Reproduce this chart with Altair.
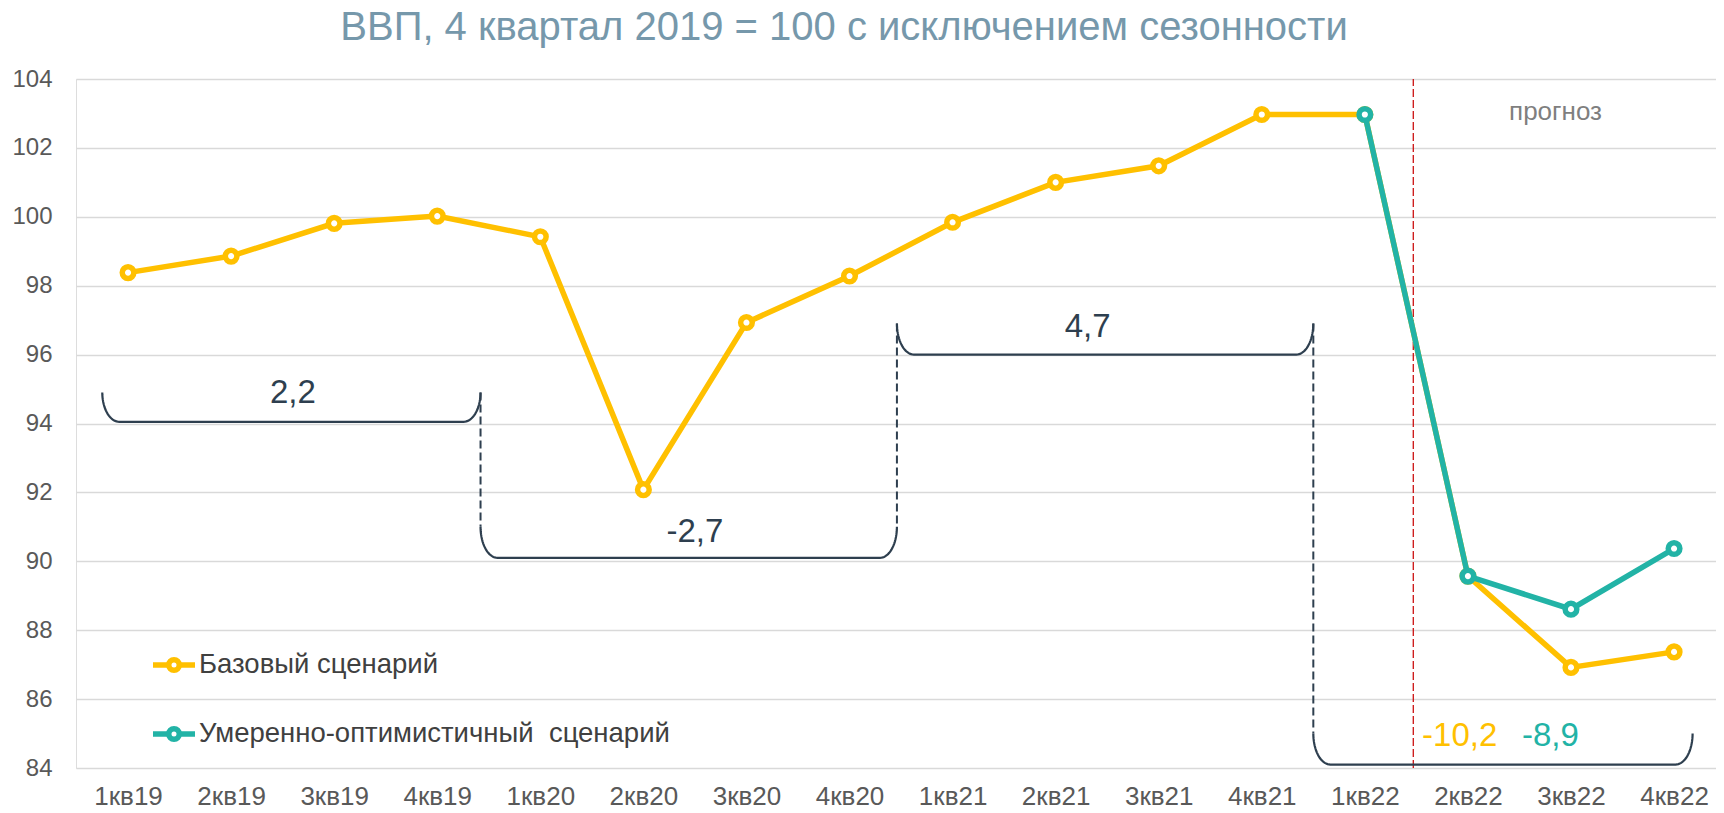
import altair as alt
import pandas as pd
import numpy as np

FONT = "Liberation Sans, Arial, sans-serif"

# ---- data ----
quarters = ["1кв19", "2кв19", "3кв19", "4кв19", "1кв20", "2кв20", "3кв20", "4кв20",
            "1кв21", "2кв21", "3кв21", "4кв21", "1кв22", "2кв22", "3кв22", "4кв22"]
base_values = [98.38, 98.86, 99.81, 100.02, 99.42, 92.08, 96.93, 98.28,
               99.84, 101.0, 101.48, 102.97, 102.97, 89.57, 86.92, 87.37]
opt_start = 12
opt_values = [102.97, 89.57, 88.61, 90.37]
series_names = ["Базовый сценарий", "Умеренно-оптимистичный\u00a0 сценарий"]
series_colors = ["#FFC000", "#22B3A6"]

# brackets (periods) : start / end positions on the quarter axis, top and flat levels
brace_x0 = [-0.25, 3.42, 7.46, 11.5]
brace_x1 = [3.42, 7.46, 11.5, 15.18]
brace_top = [94.9, 91.0, 96.9, 85.0]
brace_flat = [94.05, 90.1, 96.0, 84.1]

ann_text = ["2,2", "-2,7", "4,7", "-10,2", "-8,9"]
ann_x = [1.6, 5.5, 9.31, 12.92, 13.8]
ann_y = [94.89, 90.85, 96.8, 84.93, 84.93]
ann_color = ["#2E3F4F", "#2E3F4F", "#2E3F4F", "#FFC000", "#22B3A6"]

forecast_x = 12.47
forecast_label = "прогноз"
forecast_label_x = 13.85
forecast_label_y = 102.81

title_text = "ВВП, 4 квартал 2019 = 100 с исключением сезонности"

# ---- frames ----
idx = list(range(len(quarters)))
df_base = pd.DataFrame({"i": idx, "v": base_values, "s": series_names[0]})
df_opt = pd.DataFrame({"i": idx[opt_start:], "v": opt_values, "s": series_names[1]})

rx = 0.165  # horizontal extent of the bracket corner (axis units)
rows = []
for b, (x0, x1, yt, yb) in enumerate(zip(brace_x0, brace_x1, brace_top, brace_flat)):
    ry = yt - yb
    t = np.linspace(0, np.pi / 2, 20)
    k = 0
    for tt in t:
        rows.append({"b": b, "o": k, "x": x0 + rx - rx * np.cos(tt), "y": yt - ry * np.sin(tt)})
        k += 1
    for tt in t[::-1]:
        rows.append({"b": b, "o": k, "x": x1 - rx + rx * np.cos(tt), "y": yt - ry * np.sin(tt)})
        k += 1
df_brace = pd.DataFrame(rows)

conn = []
for j in range(len(brace_x0) - 1):
    conn.append({"x": brace_x1[j],
                 "y": max(brace_top[j], brace_top[j + 1]),
                 "y2": min(brace_top[j], brace_top[j + 1])})
df_conn = pd.DataFrame(conn)

df_ann = pd.DataFrame({"t": ann_text, "x": ann_x, "y": ann_y, "c": ann_color})
df_red = pd.DataFrame({"x": [forecast_x], "y": [84], "y2": [104]})
df_fc = pd.DataFrame({"t": [forecast_label], "x": [forecast_label_x], "y": [forecast_label_y]})

# ---- scales / axes ----
xs = alt.Scale(domain=[-0.505, 15.407], nice=False, zero=False)
ys = alt.Scale(domain=[84, 104], nice=False, zero=False)
cs = alt.Scale(domain=series_names, range=series_colors)

label_expr = "[" + ",".join("'" + q + "'" for q in quarters) + "][datum.value]"
x_axis = alt.Axis(values=idx, labelExpr=label_expr, grid=False, ticks=False, tickSize=0,
                  domain=False, labelFontSize=26, labelColor="#595959", labelFont=FONT,
                  labelPadding=15, title=None)
y_axis = alt.Axis(values=list(range(84, 105, 2)), grid=True, gridColor="#D9D9D9", gridWidth=1.5,
                  ticks=False, tickSize=0, domain=False, labelFontSize=24, labelColor="#595959",
                  labelFont=FONT, labelPadding=24, title=None)

r = 0.25
sym = (f"M-1,0L-{r},0M{r},0L1,0M-{r},0A{r},{r},0,1,0,{r},0A{r},{r},0,1,0,-{r},0Z")
legend = alt.Legend(title=None, orient="none", legendX=74, legendY=562, direction="vertical",
                    symbolType=sym, symbolSize=1764, symbolStrokeWidth=5.5,
                    symbolFillColor="white", labelFontSize=27.5, labelColor="#404040",
                    labelFont=FONT, labelOffset=1, rowPadding=28, padding=0, labelLimit=800)

X = alt.X("i:Q", scale=xs, axis=x_axis)
Y = alt.Y("v:Q", scale=ys, axis=y_axis)

base_line = alt.Chart(df_base).mark_line(color=series_colors[0], strokeWidth=5.5).encode(x=X, y=Y)
base_pts = alt.Chart(df_base).mark_point(filled=False, fill="white", fillOpacity=1, opacity=1,
                                         size=135, strokeWidth=5.5).encode(
    x=X, y=Y, stroke=alt.Stroke("s:N", scale=cs, legend=legend))
opt_line = alt.Chart(df_opt).mark_line(color=series_colors[1], strokeWidth=5.5).encode(x=X, y=Y)
opt_pts = alt.Chart(df_opt).mark_point(filled=False, fill="white", fillOpacity=1, opacity=1,
                                       size=135, strokeWidth=5.5).encode(
    x=X, y=Y, stroke=alt.Stroke("s:N", scale=cs, legend=legend))

brace = alt.Chart(df_brace).mark_line(color="#2E3F4F", strokeWidth=2.2).encode(
    x=alt.X("x:Q", scale=xs), y=alt.Y("y:Q", scale=ys), detail="b:N", order="o:Q")
conn_rules = alt.Chart(df_conn).mark_rule(color="#2E3F4F", strokeWidth=2, strokeDash=[8, 4]).encode(
    x=alt.X("x:Q", scale=xs), y=alt.Y("y:Q", scale=ys), y2="y2:Q")
red = alt.Chart(df_red).mark_rule(color="#CC1111", strokeWidth=1.3, strokeDash=[8, 3]).encode(
    x=alt.X("x:Q", scale=xs), y=alt.Y("y:Q", scale=ys), y2="y2:Q")
ann = alt.Chart(df_ann).mark_text(fontSize=33, font=FONT, baseline="middle", align="center").encode(
    x=alt.X("x:Q", scale=xs), y=alt.Y("y:Q", scale=ys), text="t:N", color=alt.Color("c:N", scale=None))
fc = alt.Chart(df_fc).mark_text(fontSize=26, font=FONT, baseline="alphabetic", align="center",
                                color="#7F7F7F").encode(
    x=alt.X("x:Q", scale=xs), y=alt.Y("y:Q", scale=ys), text="t:N")

chart = alt.layer(red, conn_rules, brace, ann, fc, base_line, base_pts, opt_line, opt_pts).properties(
    width=1640, height=689,
    title=alt.TitleParams(title_text, fontSize=40, font=FONT, color="#7698AB", fontWeight="normal",
                          anchor="middle", dx=-52, offset=19),
    autosize=alt.AutoSizeParams(type="none"),
    padding={"left": 68, "top": 71, "right": 0, "bottom": 45},
).configure_view(stroke=None).configure(background="white")

chart.save("out.html", embed_options={"renderer": "svg", "actions": False})
